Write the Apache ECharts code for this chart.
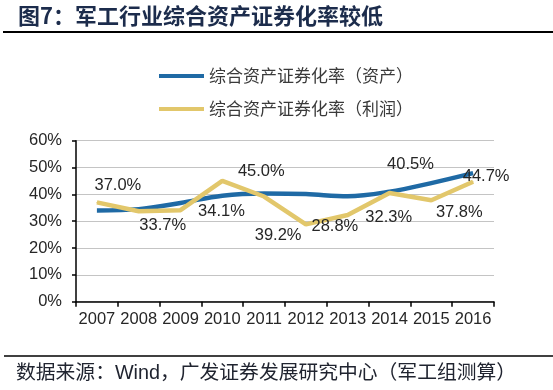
<!DOCTYPE html>
<html>
<head>
<meta charset="utf-8">
<script src="https://cdn.jsdelivr.net/npm/echarts@6/dist/echarts.min.js"></script>
<style>
html,body{margin:0;padding:0;background:#fff;}
#main{width:553px;height:390px;}
</style>
</head>
<body>
<div id="main"></div>
<script>
// ---- data ----
var categories = ['2007','2008','2009','2010','2011','2012','2013','2014','2015','2016'];
var assetRate = [34.0, 34.5, 36.8, 39.5, 40.3, 40.1, 39.3, 41.0, 44.2, 47.9];
var profitRate = [37.0, 33.7, 34.1, 45.0, 39.2, 28.8, 32.3, 40.5, 37.8, 44.7];
var seriesNames = ['综合资产证券化率（资产）', '综合资产证券化率（利润）'];
var titleText = '图7：军工行业综合资产证券化率较低';
var sourceText = '数据来源：Wind，广发证券发展研究中心（军工组测算）';

// ---- styling (label placement offsets, pixels) ----
var labelOffsets = [[21,-17],[24,14],[41,1],[39,-9],[14,39],[29,2],[41,2],[21,-29],[28,12],[13,-5]];

var chart = echarts.init(document.getElementById('main'), null, {renderer:'canvas'});
var latin = 'Liberation Sans, Arial, sans-serif';
var cjk = '"Noto Sans CJK SC", sans-serif';
var blue = '#1f6aa5', yellow = '#e2c76b';

var profitData = profitRate.map(function(v, i){
  return {
    value: v,
    label: {
      show: true,
      position: [labelOffsets[i][0] + 0.5, labelOffsets[i][1] + 0.5],
      align: 'center',
      verticalAlign: 'middle',
      formatter: v.toFixed(1) + '%'
    }
  };
});

chart.setOption({
  backgroundColor: '#ffffff',
  animation: false,
  grid: {left: 76, right: 59, top: 140.7, bottom: 88.3},
  legend: {
    orient: 'vertical',
    left: 154,
    top: 61,
    icon: 'rect',
    itemWidth: 45,
    itemHeight: 4,
    itemGap: 13,
    textStyle: {fontFamily: cjk, fontSize: 17, color: '#3a3a3a', lineHeight: 20},
    data: [
      {name: seriesNames[0], itemStyle: {color: blue}},
      {name: seriesNames[1], itemStyle: {color: yellow}}
    ]
  },
  xAxis: {
    type: 'category',
    data: categories,
    boundaryGap: true,
    axisLine: {lineStyle: {color: '#000', width: 1.5}},
    axisTick: {show: true, length: 5, lineStyle: {color: '#000', width: 1.5}},
    axisLabel: {fontFamily: latin, fontSize: 16.5, color: '#262626', margin: 9, interval: 0}
  },
  yAxis: {
    type: 'value',
    min: 0, max: 60, interval: 10,
    axisLine: {show: true, lineStyle: {color: '#000', width: 1.5}},
    axisTick: {show: true, length: 4, lineStyle: {color: '#000', width: 1.5}},
    axisLabel: {fontFamily: latin, fontSize: 16.5, color: '#262626', margin: 14, formatter: '{value}%'},
    splitLine: {show: true, lineStyle: {color: '#c4c4c4', width: 1}}
  },
  series: [
    {
      name: seriesNames[0],
      type: 'line',
      data: assetRate,
      smooth: 0.35,
      symbol: 'none',
      itemStyle: {color: blue},
      lineStyle: {color: blue, width: 4.5},
      z: 2
    },
    {
      name: seriesNames[1],
      type: 'line',
      data: profitData,
      symbol: 'circle',
      symbolSize: 1,
      showSymbol: true,
      itemStyle: {color: yellow},
      lineStyle: {color: yellow, width: 4.5},
      label: {
        fontFamily: latin, fontSize: 16.5, color: '#262626',
        align: 'center', verticalAlign: 'middle'
      },
      labelLayout: {hideOverlap: false},
      z: 3
    }
  ],
  graphic: [
    {type: 'text', left: 18, top: 5, style: {text: titleText, fontFamily: cjk, fontWeight: 'bold', fontSize: 22, fill: '#1c2c4c'}},
    {type: 'line', shape: {x1: 3, y1: 32, x2: 553, y2: 32}, style: {stroke: '#000', lineWidth: 2}},
    {type: 'line', shape: {x1: 4, y1: 356, x2: 553, y2: 356}, style: {stroke: '#000', lineWidth: 1.5}},
    {type: 'text', left: 16, top: 364, style: {text: sourceText, fontFamily: 'Liberation Sans, "Noto Sans CJK SC", sans-serif', fontSize: 19.8, fill: '#202430'}}
  ]
});
</script>
</body>
</html>
